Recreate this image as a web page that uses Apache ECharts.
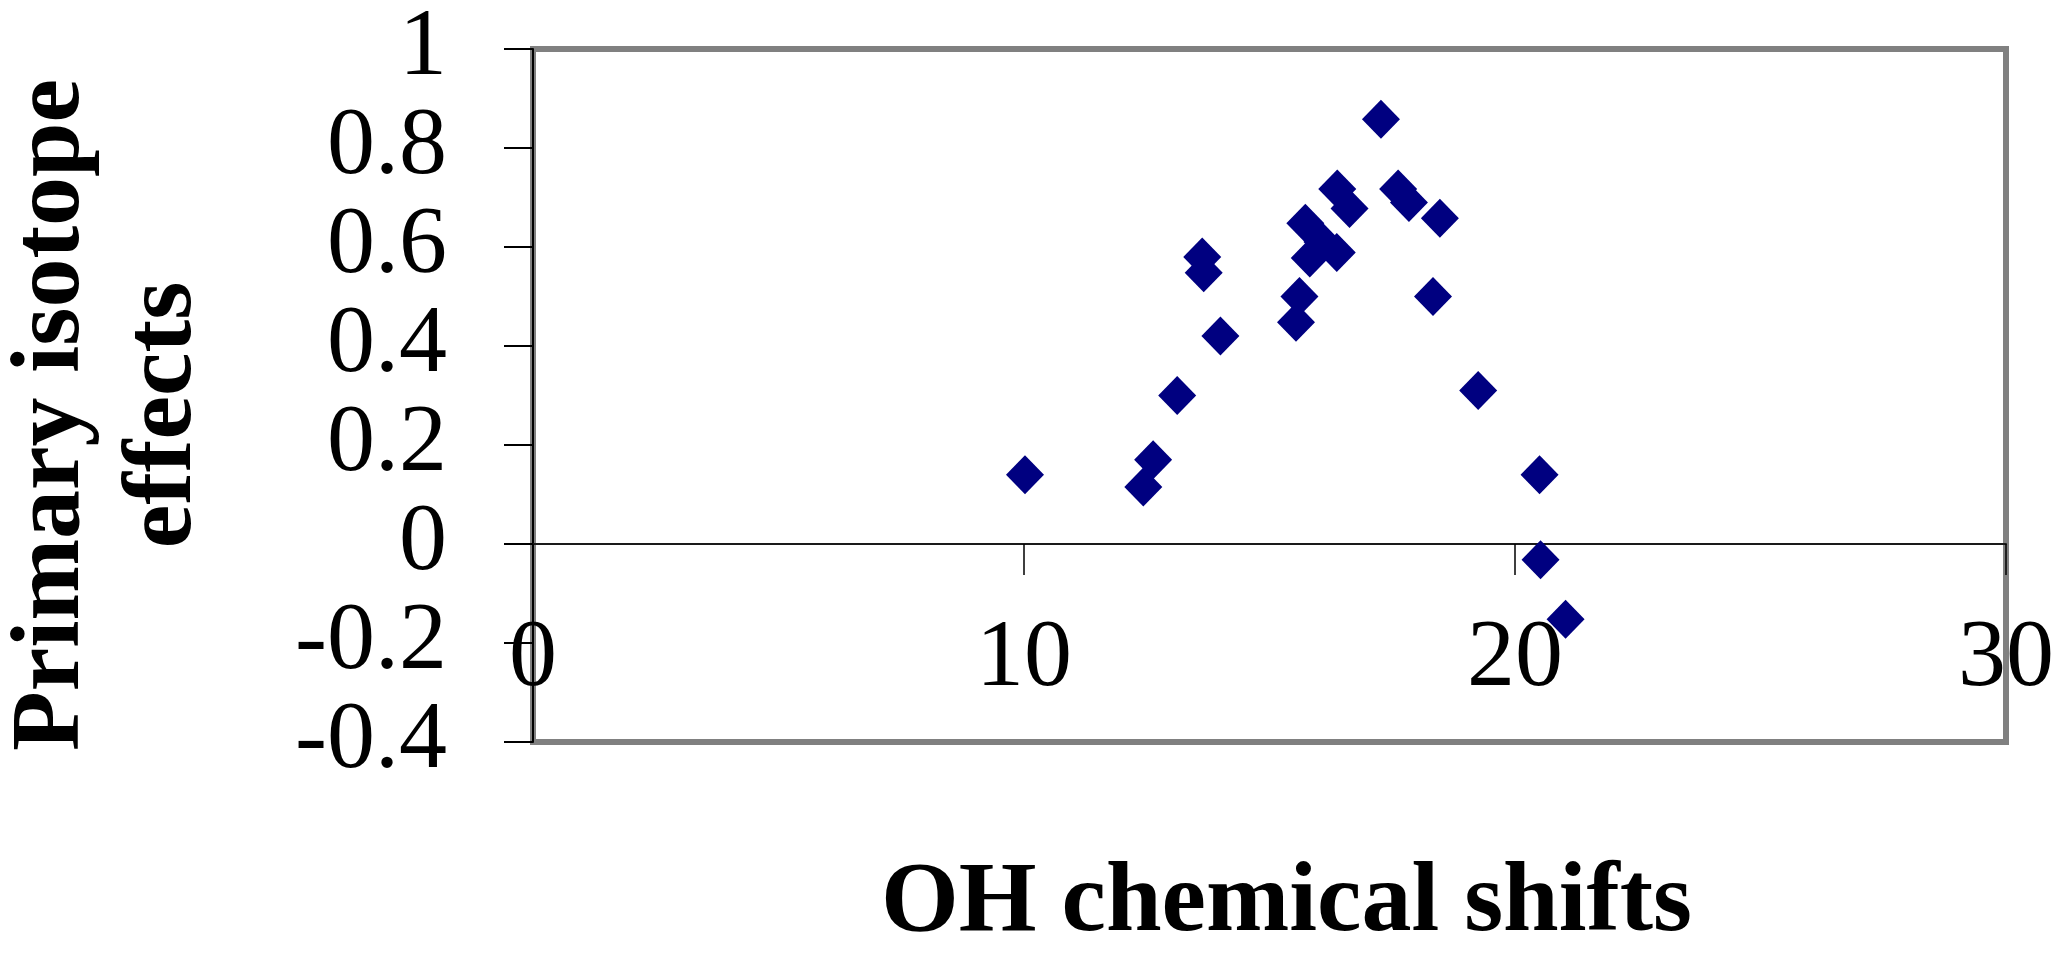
<!DOCTYPE html>
<html>
<head>
<meta charset="utf-8">
<script src="https://cdn.jsdelivr.net/npm/echarts@6/dist/echarts.min.js"></script>
<style>
html,body{margin:0;padding:0;background:#ffffff;}
#chart{width:2062px;height:964px;}
</style>
</head>
<body>
<div id="chart"></div>
<script>
// ---- data ----
const ohShifts = [10.02, 12.43, 12.63, 13.12, 13.63, 13.66, 14.00, 15.54, 15.61, 15.73, 15.82, 16.08,
                  16.37, 16.38, 16.63, 17.27, 17.62, 17.84, 18.33, 18.47, 19.25, 20.50, 20.52, 21.03];
const isotopeEffects = [0.14, 0.115, 0.17, 0.30, 0.58, 0.548, 0.42, 0.448, 0.50, 0.648, 0.578, 0.61,
                        0.589, 0.717, 0.678, 0.858, 0.717, 0.69, 0.50, 0.658, 0.31, 0.14, -0.032, -0.152];
const xTicks = [0, 10, 20, 30];
const yTicks = [-0.4, -0.2, 0, 0.2, 0.4, 0.6, 0.8, 1];
const xTitle = 'OH chemical shifts';
const yTitle = 'Primary isotope\neffects';

const points = ohShifts.map((x, i) => [x, isotopeEffects[i]]);
const FONT = "'Liberation Serif', 'Times New Roman', serif";

const chart = echarts.init(document.getElementById('chart'), null, {renderer: 'canvas'});
chart.setOption({
  animation: false,
  backgroundColor: '#ffffff',
  grid: {
    left: 533, right: 56, top: 49, bottom: 222,
    containLabel: false,
    outerBoundsMode: 'none',
    show: true, borderColor: '#808080', borderWidth: 6, backgroundColor: 'transparent'
  },
  xAxis: {
    type: 'value',
    min: xTicks[0], max: xTicks[xTicks.length - 1], interval: xTicks[1] - xTicks[0],
    name: xTitle,
    nameLocation: 'middle',
    nameGap: 112,
    nameTextStyle: {
      fontFamily: FONT, fontWeight: 'bold', fontSize: 100, color: '#000', lineHeight: 100,
      padding: [0, 0, 0, 34]
    },
    axisLine: {show: true, onZero: true, lineStyle: {color: '#1a1a1a', width: 2}},
    axisTick: {show: true, length: 31, lineStyle: {color: '#000', width: 1.5}},
    axisLabel: {
      margin: -82, verticalAlign: 'middle',
      showMinLabel: true, showMaxLabel: true, hideOverlap: false,
      fontFamily: FONT, fontSize: 96, color: '#000'
    },
    splitLine: {show: false}
  },
  yAxis: {
    type: 'value',
    min: yTicks[0], max: yTicks[yTicks.length - 1], interval: yTicks[1] - yTicks[0],
    name: yTitle,
    nameLocation: 'middle',
    nameGap: 312,
    nameTextStyle: {
      fontFamily: FONT, fontWeight: 'bold', fontSize: 98, color: '#000', lineHeight: 112,
      padding: [0, 39, 0, 0]
    },
    axisLine: {show: true, lineStyle: {color: '#000', width: 2}},
    axisTick: {show: true, length: 29, lineStyle: {color: '#000', width: 2}},
    axisLabel: {
      margin: 86,
      showMinLabel: true, showMaxLabel: true, hideOverlap: false,
      fontFamily: FONT, fontSize: 96, color: '#000'
    },
    splitLine: {show: false}
  },
  series: [{
    type: 'scatter',
    data: points,
    symbol: 'diamond',
    symbolSize: [38, 39],
    itemStyle: {color: '#000080', opacity: 1},
    clip: false
  }]
});
</script>
</body>
</html>
